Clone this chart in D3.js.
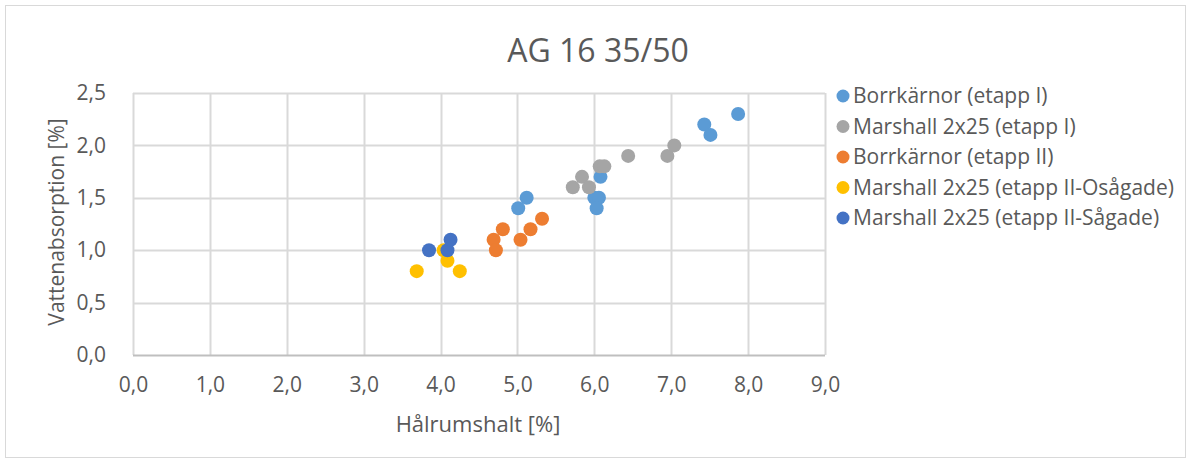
<!DOCTYPE html>
<html><head><meta charset="utf-8">
<script src="https://cdn.jsdelivr.net/npm/d3@7"></script>
<style>body{margin:0;background:#fff;}svg{display:block;font-family:"Open Sans",sans-serif;}</style>
</head><body><svg id="c" width="1187" height="459"></svg>
<script>
const title = "AG 16 35/50";
const xTitle = "Hålrumshalt [%]";
const yTitle = "Vattenabsorption [%]";
const seriesNames = ["Borrkärnor (etapp I)", "Marshall 2x25 (etapp I)", "Borrkärnor (etapp II)", "Marshall 2x25 (etapp II-Osågade)", "Marshall 2x25 (etapp II-Sågade)"];
const seriesColors = ["#5B9BD5", "#A5A5A5", "#ED7D31", "#FFC000", "#4472C4"];
const borrI_x = [5.01, 5.12, 6.00, 6.06, 6.03, 6.08, 7.43, 7.51, 7.87];
const borrI_y = [1.4, 1.5, 1.5, 1.5, 1.4, 1.7, 2.2, 2.1, 2.3];
const marsI_x = [5.72, 5.84, 5.93, 6.07, 6.13, 6.44, 6.95, 7.04];
const marsI_y = [1.6, 1.7, 1.6, 1.8, 1.8, 1.9, 1.9, 2.0];
const borrII_x = [4.69, 4.72, 4.81, 5.04, 5.17, 5.32];
const borrII_y = [1.1, 1.0, 1.2, 1.1, 1.2, 1.3];
const marsOs_x = [3.69, 4.04, 4.09, 4.25];
const marsOs_y = [0.8, 1.0, 0.9, 0.8];
const marsSa_x = [3.85, 4.09, 4.13];
const marsSa_y = [1.0, 1.0, 1.1];
const xTicks = [0, 1, 2, 3, 4, 5, 6, 7, 8, 9];
const yTicks = [0, 0.5, 1.0, 1.5, 2.0, 2.5];

const seriesX = [borrI_x, marsI_x, borrII_x, marsOs_x, marsSa_x];
const seriesY = [borrI_y, marsI_y, borrII_y, marsOs_y, marsSa_y];

const svg = d3.select("#c");
const fmt = d => d3.format(".1f")(d).replace(".", ",");
const txt = "#595959";

svg.append("rect").attr("x", 5.5).attr("y", 5.5).attr("width", 1180).attr("height", 452)
  .attr("fill", "#fff").attr("stroke", "#d9d9d9").attr("stroke-width", 1);

const x = d3.scaleLinear().domain([0, 9]).range([133, 825]);
const y = d3.scaleLinear().domain([0, 2.5]).range([355, 93]);

// grid
svg.append("g").selectAll("line.v").data(xTicks).join("line")
  .attr("x1", d => Math.round(x(d)) + 0.5).attr("x2", d => Math.round(x(d)) + 0.5)
  .attr("y1", y(2.5)).attr("y2", y(0)).attr("stroke", "#d9d9d9").attr("stroke-width", 2);
svg.append("g").selectAll("line.h").data(yTicks).join("line")
  .attr("y1", d => Math.round(y(d)) + 0.5).attr("y2", d => Math.round(y(d)) + 0.5)
  .attr("x1", x(0)).attr("x2", x(9)).attr("stroke", d => d === 0 ? "#bfbfbf" : "#d9d9d9").attr("stroke-width", 2);

// axes (labels only)
const xa = svg.append("g").attr("transform", `translate(0,${y(0) + 19})`)
  .call(d3.axisBottom(x).tickValues(xTicks).tickFormat(fmt).tickSize(0));
xa.select(".domain").remove();
xa.selectAll("text").attr("fill", txt).attr("font-size", 21).attr("font-family", "Open Sans").attr("dy", "0.71em");
const ya = svg.append("g").attr("transform", `translate(${x(0) - 24},0)`)
  .call(d3.axisLeft(y).tickValues(yTicks).tickFormat(fmt).tickSize(0));
ya.select(".domain").remove();
ya.selectAll("text").attr("fill", txt).attr("font-size", 21).attr("font-family", "Open Sans");

// points
seriesX.forEach((xs, i) => {
  const pts = xs.map((v, j) => [v, seriesY[i][j]]);
  svg.append("g").selectAll("circle").data(pts).join("circle")
    .attr("cx", d => x(d[0])).attr("cy", d => y(d[1])).attr("r", 7)
    .attr("fill", seriesColors[i]);
});

// titles
svg.append("text").attr("x", 598).attr("y", 62).attr("text-anchor", "middle")
  .attr("font-size", 32).attr("fill", txt).text(title);
svg.append("text").attr("x", 478).attr("y", 432).attr("text-anchor", "middle")
  .attr("font-size", 22).attr("fill", txt).text(xTitle);
svg.append("text").attr("transform", "translate(64,222) rotate(-90)").attr("text-anchor", "middle")
  .attr("font-size", 21).attr("fill", txt).text(yTitle);

// legend
const lg = svg.append("g");
seriesNames.forEach((n, i) => {
  const cy = 96 + i * 30.5;
  lg.append("circle").attr("cx", 843).attr("cy", cy).attr("r", 6.5).attr("fill", seriesColors[i]);
  lg.append("text").attr("x", 853).attr("y", cy).attr("dy", "0.35em")
    .attr("font-size", 21).attr("fill", txt).text(n);
});
</script></body></html>
